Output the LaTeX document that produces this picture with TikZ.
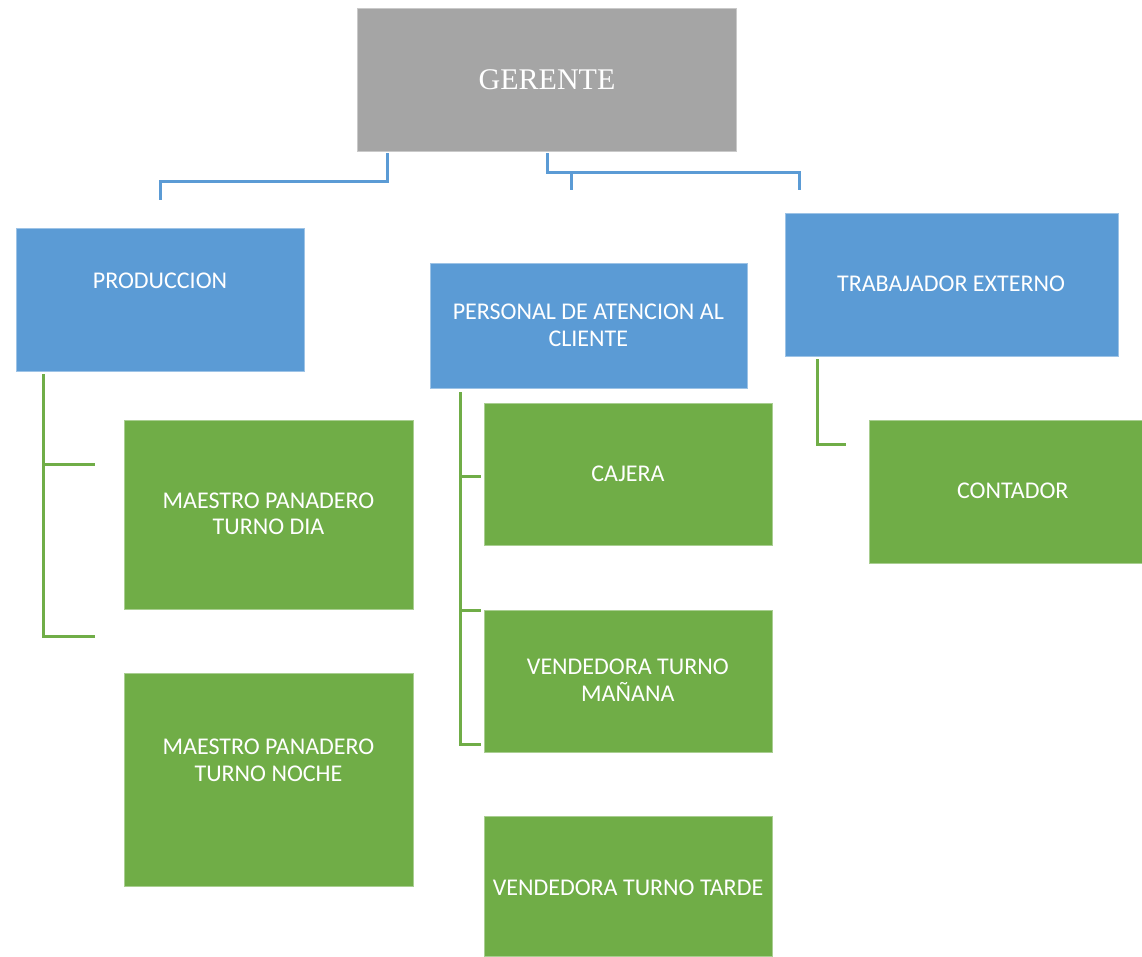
\documentclass[tikz,border=0pt]{standalone}
\usepackage{fontspec}
\setmainfont{Carlito}
\newfontfamily\gerfont{Liberation Serif}
\definecolor{cgray}{HTML}{A5A5A5}
\definecolor{cblue}{HTML}{5B9BD5}
\definecolor{cgreen}{HTML}{70AD47}
\begin{document}
\begin{tikzpicture}[x=1pt,y=-1pt,
  box/.style={anchor=north west,inner sep=0pt,outer sep=0pt,line width=0.8pt},
  graybox/.style={box,fill=cgray,draw=cgray!60!white},
  bluebox/.style={box,fill=cblue,draw=cblue!60!white},
  greenbox/.style={box,fill=cgreen,draw=cgreen!60!white},
  lbl/.style={anchor=base,inner sep=0pt,text=white,font=\fontsize{24}{27}\selectfont},
  bline/.style={draw=cblue,line width=3pt},
  gline/.style={draw=cgreen,line width=3pt}]
\useasboundingbox (0,0) rectangle (1142,956);
% boxes
\node[graybox,minimum width=379,minimum height=143] (ger) at (357,8) {};
\node[bluebox,minimum width=288,minimum height=143] (prod) at (16,228) {};
\node[bluebox,minimum width=317,minimum height=125] (pers) at (430,263) {};
\node[bluebox,minimum width=333,minimum height=143] (trab) at (785,213) {};
\node[greenbox,minimum width=289,minimum height=189] (mdia) at (124,420) {};
\node[greenbox,minimum width=289,minimum height=213] (mnoc) at (124,673) {};
\node[greenbox,minimum width=288,minimum height=142] (caj) at (484,403) {};
\node[greenbox,minimum width=288,minimum height=142] (vman) at (484,610) {};
\node[greenbox,minimum width=288,minimum height=140] (vtar) at (484,816) {};
\node[greenbox,minimum width=274,minimum height=143] (cont) at (869,420) {};
% texts
\node[anchor=base,inner sep=0pt,text=white,font=\gerfont\fontsize{30}{34}\selectfont] (tger) at (547,89) {GERENTE};
\node[lbl] (tprod) at (160,288) {PRODUCCION};
\node[lbl] (tmd1) at (268.5,508.6) {MAESTRO PANADERO};
\node[lbl] (tmd2) at (268.5,534.6) {TURNO DIA};
\node[lbl] (tmn1) at (268.5,754.6) {MAESTRO PANADERO};
\node[lbl] (tmn2) at (268.5,781.6) {TURNO NOCHE};
\node[lbl] (tpe1) at (588.3,319.5) {PERSONAL DE ATENCION AL};
\node[lbl] (tpe2) at (588.3,346) {CLIENTE};
\node[lbl] (tcaj) at (628,481) {CAJERA};
\node[lbl] (tvm1) at (627.8,674.6) {VENDEDORA TURNO};
\node[lbl] (tvm2) at (627.8,701) {MAÑANA};
\node[lbl] (tvt) at (628,895.6) {VENDEDORA TURNO TARDE};
\node[lbl] (ttra) at (951,291.6) {TRABAJADOR EXTERNO};
\node[lbl] (tcon) at (1012.8,498) {CONTADOR};
% connector ends
\coordinate (gl) at (387,153);
\coordinate (pl) at (160,200);
\coordinate (gr) at (547,153);
\coordinate (rj) at (571,172);
\coordinate (pr) at (571,190);
\coordinate (tr) at (799,190);
\coordinate (p1) at (43,374);
\coordinate (p2) at (95,464);
\coordinate (p3) at (95,636);
\coordinate (q1) at (460,392);
\coordinate (q2) at (481,476);
\coordinate (q3) at (481,610);
\coordinate (q4) at (481,744);
\coordinate (r1) at (817,359);
\coordinate (r2) at (846,444);
% blue connectors
\draw[bline] (gl) -- (387,181) -| (pl);
\draw[bline] (gr) -- (547,172) -| (tr);
\draw[bline] (rj) -- (pr);
% green connectors
\draw[gline] (p1) |- (p3);
\draw[gline] (p1 |- p2) -- (p2);
\draw[gline] (q1) |- (q4);
\draw[gline] (q1 |- q2) -- (q2);
\draw[gline] (q1 |- q3) -- (q3);
\draw[gline] (r1) |- (r2);
\end{tikzpicture}
\end{document}
